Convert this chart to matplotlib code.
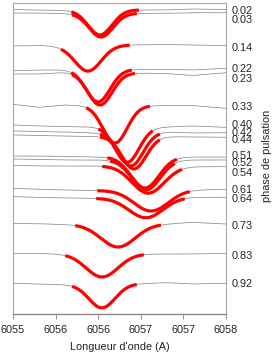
import numpy as np
import matplotlib
matplotlib.use("Agg")
import matplotlib.pyplot as plt

plt.rcParams['font.family'] = ['Liberation Sans', 'DejaVu Sans']

# ---- data ----
phases = [0.02, 0.03, 0.14, 0.22, 0.23, 0.33, 0.40, 0.42, 0.44,
          0.51, 0.52, 0.54, 0.61, 0.64, 0.73, 0.83, 0.92]
phase_labels = ["0.02", "0.03", "0.14", "0.22", "0.23", "0.33", "0.40", "0.42", "0.44",
                "0.51", "0.52", "0.54", "0.61", "0.64", "0.73", "0.83", "0.92"]
offset_per_phase = 3.04

# continuum (normalised flux) sampled at these wavelengths
cont_wl = [6055.0, 6055.3, 6055.6, 6056.0, 6056.4, 6056.8, 6057.1, 6057.5]
continua = [
    [1.006, 1.001, 0.996, 0.996, 1.001, 1.001, 1.011, 1.006],  # 0.02
    [1.001, 1.001, 0.996, 0.996, 0.998, 0.998, 1.004, 1.004],  # 0.03
    [1.006, 1.011, 1.001, 1.006, 1.016, 1.021, 1.016, 1.009],  # 0.14
    [1.002, 1.009, 1.009, 1.009, 1.014, 1.014, 1.009, 1.026],  # 0.22
    [0.999, 0.999, 1.014, 1.009, 1.009, 1.004, 0.984, 1.012],  # 0.23
    [1.000, 0.970, 0.993, 0.983, 0.983, 0.988, 0.988, 0.960],  # 0.33
    [1.006, 0.996, 0.991, 0.986, 0.976, 0.986, 0.996, 0.983],  # 0.40
    [1.007, 1.002, 0.997, 0.987, 0.987, 0.997, 0.987, 0.990],  # 0.42
    [1.028, 1.023, 1.018, 1.013, 1.008, 1.011, 1.008, 1.005],  # 0.44
    [1.030, 1.030, 1.025, 1.020, 1.020, 1.020, 1.020, 1.020],  # 0.51
    [1.031, 1.026, 1.021, 1.021, 1.021, 1.021, 1.021, 1.021],  # 0.52
    [1.027, 1.022, 1.022, 1.022, 1.022, 1.017, 1.015, 1.015],  # 0.54
    [1.011, 1.001, 0.994, 0.989, 0.989, 0.989, 0.994, 1.001],  # 0.61
    [1.019, 1.011, 1.006, 1.003, 1.006, 1.011, 1.013, 1.013],  # 0.64
    [1.026, 1.022, 1.014, 1.009, 1.009, 1.019, 1.036, 1.019],  # 0.73
    [1.030, 1.028, 1.023, 1.023, 1.023, 1.023, 1.023, 1.030],  # 0.83
    [1.004, 0.997, 0.990, 0.987, 0.997, 1.010, 0.997, 1.004],  # 0.92
]

# fitted absorption line (Gaussian) parameters
line_center = [6056.021, 6056.033, 6055.880, 6055.998, 6056.021, 6056.197, 6056.338, 6056.385, 6056.420,
               6056.549, 6056.561, 6056.585, 6056.620, 6056.561, 6056.232, 6056.045, 6056.045]
line_depth = [0.245, 0.235, 0.25, 0.32, 0.32, 0.37, 0.345, 0.33, 0.32,
              0.31, 0.30, 0.27, 0.205, 0.20, 0.22, 0.23, 0.23]
line_sigma = [0.141, 0.141, 0.153, 0.141, 0.141, 0.141, 0.141, 0.141, 0.141,
              0.164, 0.164, 0.188, 0.200, 0.200, 0.200, 0.188, 0.153]
fit_start = [6055.681, 6055.692, 6055.563, 6055.681, 6055.692, 6055.857, 6055.998, 6056.021, 6056.021,
             6056.103, 6056.138, 6056.045, 6055.986, 6055.974, 6055.728, 6055.610, 6055.692]
fit_end = [6056.479, 6056.455, 6056.373, 6056.397, 6056.432, 6056.608, 6056.643, 6056.725, 6056.725,
           6056.925, 6056.901, 6056.984, 6057.077, 6057.019, 6056.737, 6056.538, 6056.455]

xtick_vals = [6055.0, 6055.5, 6056.0, 6056.5, 6057.0, 6057.5]
xtick_labels = ["6055", "6056", "6056", "6057", "6057", "6058"]

# ---- layout ----
W, H = 275, 357
fig = plt.figure(figsize=(W / 100, H / 100), dpi=100)
ax = fig.add_axes([13 / W, 1 - 314 / H, 213 / W, 311.5 / H])

label_px = [11, 20, 48, 69, 79, 107, 125, 133, 140, 156, 163, 173, 190, 199, 226, 256, 284]
FS = 7.8

for i, ph in enumerate(phases):
    shift = -offset_per_phase * ph
    wl = np.linspace(cont_wl[0], cont_wl[-1], 600)
    cont = np.interp(wl, cont_wl, continua[i])
    prof = line_depth[i] * np.exp(-0.5 * ((wl - line_center[i]) / line_sigma[i]) ** 2)
    ax.plot(wl, cont - prof + shift, color='#8a8a8a', lw=0.55, zorder=2)
    m = (wl >= fit_start[i]) & (wl <= fit_end[i])
    ax.plot(wl[m], (cont - prof + shift)[m], color='#ff0000', lw=2.3,
            solid_capstyle='butt', zorder=3)
    ax.text(1.028, 1 - (label_px[i] - 2.5) / 311.5, phase_labels[i], transform=ax.transAxes,
            ha='left', va='center', fontsize=FS, color='#222222')

ax.set_xlim(6055.0, 6057.5)
ax.set_ylim((104 - 314) / 100, (104 - 2.5) / 100)
ax.set_xticks(xtick_vals)
ax.set_xticklabels(xtick_labels, fontsize=FS, color='#222222')
ax.set_yticks([])
ax.tick_params(axis='x', direction='out', length=3.5, width=0.6, color='#808080', pad=4.5)
for s in ['left', 'top', 'right']:
    ax.spines[s].set_color('#a8a8a8')
    ax.spines[s].set_linewidth(0.8)
ax.spines['bottom'].set_color('#808080')
ax.spines['bottom'].set_linewidth(0.9)

ax.set_xlabel("Longueur d'onde (A)", fontsize=FS, color='#222222', labelpad=5)
fig.text(267 / W, 1 - 156 / H, "phase de pulsation", rotation=90, ha='center', va='center',
         fontsize=FS, color='#222222')

fig.savefig("out.png", dpi=100)
